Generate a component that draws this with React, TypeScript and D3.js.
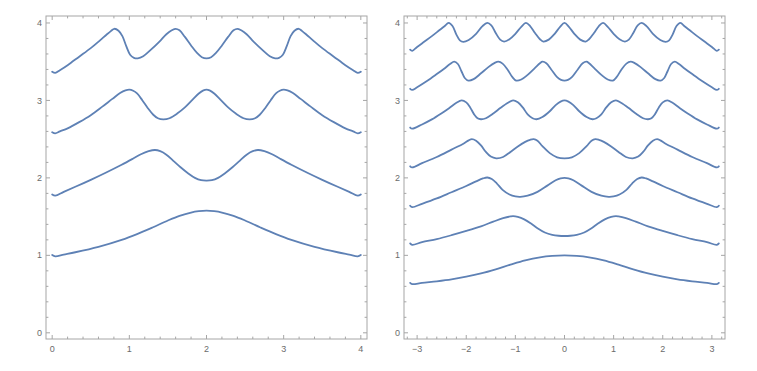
import React from "react";
import * as d3 from "d3";

type P = [number, number];

const leftXTicks = [0, 1, 2, 3, 4];
const rightXTicks = [-3, -2, -1, 0, 1, 2, 3];
const yTicks = [0, 1, 2, 3, 4];

const L1: P[] = [[0,1.005],[0.04,0.988],[0.15,1.01],[0.3,1.04],[0.6,1.11],[0.9,1.2],[1.1,1.275],[1.3,1.36],[1.5,1.45],[1.65,1.51],[1.8,1.553],[1.9,1.57],[2.0,1.577],[2.1,1.57],[2.2,1.553],[2.35,1.51],[2.5,1.45],[2.7,1.36],[2.9,1.275],[3.1,1.2],[3.4,1.11],[3.7,1.04],[3.85,1.01],[3.96,0.988],[4,1.005]];
const L2: P[] = [[0,1.785],[0.04,1.77],[0.15,1.82],[0.3,1.885],[0.5,1.975],[0.7,2.07],[0.9,2.17],[1.05,2.25],[1.15,2.305],[1.25,2.345],[1.333,2.36],[1.4,2.345],[1.48,2.3],[1.57,2.22],[1.66,2.14],[1.76,2.06],[1.85,2.0],[1.93,1.97],[2.0,1.965],[2.07,1.97],[2.15,2.0],[2.24,2.06],[2.34,2.14],[2.43,2.22],[2.52,2.3],[2.6,2.345],[2.667,2.36],[2.75,2.345],[2.85,2.305],[2.95,2.25],[3.1,2.17],[3.3,2.07],[3.5,1.975],[3.7,1.885],[3.85,1.82],[3.96,1.77],[4,1.785]];
const L3: P[] = [[0,2.59],[0.04,2.575],[0.1,2.6],[0.2,2.64],[0.35,2.72],[0.5,2.81],[0.65,2.92],[0.78,3.02],[0.88,3.095],[0.95,3.13],[1.0,3.14],[1.05,3.125],[1.1,3.09],[1.17,3.0],[1.24,2.9],[1.31,2.815],[1.37,2.77],[1.44,2.755],[1.52,2.77],[1.62,2.83],[1.72,2.91],[1.82,3.01],[1.9,3.09],[1.96,3.13],[2.0,3.14],[2.04,3.13],[2.1,3.09],[2.18,3.01],[2.28,2.91],[2.38,2.83],[2.48,2.77],[2.56,2.755],[2.63,2.77],[2.69,2.815],[2.76,2.9],[2.83,3.0],[2.9,3.09],[2.95,3.125],[3.0,3.14],[3.05,3.13],[3.12,3.095],[3.22,3.02],[3.35,2.92],[3.5,2.81],[3.65,2.72],[3.8,2.64],[3.9,2.6],[3.96,2.575],[4,2.59]];
const L4: P[] = [[0,3.37],[0.04,3.355],[0.1,3.39],[0.2,3.455],[0.35,3.565],[0.5,3.675],[0.62,3.775],[0.7,3.845],[0.76,3.895],[0.805,3.925],[0.86,3.9],[0.91,3.83],[0.96,3.7],[1.01,3.59],[1.06,3.55],[1.11,3.543],[1.18,3.57],[1.28,3.655],[1.39,3.76],[1.48,3.855],[1.55,3.905],[1.6,3.925],[1.65,3.905],[1.72,3.82],[1.8,3.71],[1.88,3.61],[1.94,3.558],[2.0,3.543],[2.06,3.558],[2.12,3.61],[2.2,3.71],[2.28,3.82],[2.35,3.905],[2.4,3.925],[2.45,3.905],[2.52,3.855],[2.61,3.76],[2.72,3.655],[2.82,3.57],[2.89,3.543],[2.94,3.55],[2.99,3.59],[3.04,3.7],[3.09,3.83],[3.14,3.9],[3.195,3.925],[3.24,3.895],[3.3,3.845],[3.38,3.775],[3.5,3.675],[3.65,3.565],[3.8,3.455],[3.9,3.39],[3.96,3.355],[4,3.37]];

const R1: P[] = [[-3.1416,0.645],[-3.1,0.628],[-2.9,0.645],[-2.6,0.665],[-2.3,0.69],[-2.0,0.725],[-1.7,0.767],[-1.4,0.82],[-1.1,0.88],[-0.8,0.935],[-0.5,0.975],[-0.25,0.994],[0,1.0],[0.25,0.994],[0.5,0.975],[0.8,0.935],[1.1,0.88],[1.4,0.82],[1.7,0.767],[2.0,0.725],[2.3,0.69],[2.6,0.665],[2.9,0.645],[3.1,0.628],[3.1416,0.645]];
const R2: P[] = [[-3.1416,1.155],[-3.1,1.136],[-2.9,1.17],[-2.6,1.21],[-2.3,1.26],[-2.0,1.315],[-1.7,1.375],[-1.45,1.435],[-1.25,1.48],[-1.1,1.503],[-1.047,1.507],[-0.95,1.497],[-0.82,1.465],[-0.68,1.41],[-0.55,1.35],[-0.4,1.295],[-0.25,1.265],[-0.12,1.253],[0,1.25],[0.12,1.253],[0.25,1.265],[0.4,1.295],[0.55,1.35],[0.68,1.41],[0.82,1.465],[0.95,1.497],[1.047,1.507],[1.1,1.503],[1.25,1.48],[1.45,1.435],[1.7,1.375],[2.0,1.315],[2.3,1.26],[2.6,1.21],[2.9,1.17],[3.1,1.136],[3.1416,1.155]];
const R3: P[] = [[-3.1416,1.64],[-3.1,1.622],[-2.9,1.665],[-2.6,1.735],[-2.3,1.815],[-2.0,1.895],[-1.8,1.955],[-1.66,1.993],[-1.571,2.005],[-1.48,1.985],[-1.38,1.93],[-1.26,1.845],[-1.12,1.785],[-1.0,1.76],[-0.9,1.755],[-0.75,1.77],[-0.55,1.82],[-0.35,1.9],[-0.18,1.97],[-0.08,1.995],[0,2.0],[0.08,1.995],[0.18,1.97],[0.35,1.9],[0.55,1.82],[0.75,1.77],[0.9,1.755],[1.0,1.76],[1.12,1.785],[1.26,1.845],[1.38,1.93],[1.48,1.985],[1.571,2.005],[1.66,1.993],[1.8,1.955],[2.0,1.895],[2.3,1.815],[2.6,1.735],[2.9,1.665],[3.1,1.622],[3.1416,1.64]];
const R4: P[] = [[-3.1416,2.15],[-3.1,2.135],[-2.9,2.19],[-2.6,2.27],[-2.3,2.365],[-2.05,2.445],[-1.95,2.485],[-1.885,2.5],[-1.8,2.48],[-1.7,2.42],[-1.6,2.335],[-1.5,2.275],[-1.39,2.253],[-1.25,2.27],[-1.1,2.335],[-0.95,2.405],[-0.8,2.465],[-0.7,2.492],[-0.628,2.5],[-0.55,2.48],[-0.45,2.41],[-0.3,2.32],[-0.15,2.266],[0,2.253],[0.15,2.266],[0.3,2.32],[0.45,2.41],[0.55,2.48],[0.628,2.5],[0.7,2.492],[0.8,2.465],[0.95,2.405],[1.1,2.335],[1.25,2.27],[1.39,2.253],[1.5,2.275],[1.6,2.335],[1.7,2.42],[1.8,2.48],[1.885,2.5],[1.95,2.485],[2.05,2.445],[2.3,2.365],[2.6,2.27],[2.9,2.19],[3.1,2.135],[3.1416,2.15]];
const R5: P[] = [[-3.1416,2.65],[-3.1,2.635],[-2.9,2.69],[-2.7,2.755],[-2.5,2.835],[-2.35,2.9],[-2.2,2.97],[-2.094,3.0],[-2.0,2.975],[-1.92,2.91],[-1.84,2.82],[-1.77,2.77],[-1.7,2.757],[-1.6,2.77],[-1.45,2.83],[-1.3,2.905],[-1.15,2.97],[-1.047,3.0],[-0.95,2.975],[-0.85,2.91],[-0.75,2.82],[-0.65,2.77],[-0.57,2.757],[-0.45,2.785],[-0.3,2.86],[-0.18,2.94],[-0.08,2.985],[0,3.0],[0.08,2.985],[0.18,2.94],[0.3,2.86],[0.45,2.785],[0.57,2.757],[0.65,2.77],[0.75,2.82],[0.85,2.91],[0.95,2.975],[1.047,3.0],[1.15,2.97],[1.3,2.905],[1.45,2.83],[1.6,2.77],[1.7,2.757],[1.77,2.77],[1.84,2.82],[1.92,2.91],[2.0,2.975],[2.094,3.0],[2.2,2.97],[2.35,2.9],[2.5,2.835],[2.7,2.755],[2.9,2.69],[3.1,2.635],[3.1416,2.65]];
const R6: P[] = [[-3.1416,3.15],[-3.1,3.135],[-3.0,3.17],[-2.8,3.25],[-2.6,3.34],[-2.45,3.41],[-2.33,3.47],[-2.244,3.5],[-2.17,3.47],[-2.1,3.38],[-2.03,3.29],[-1.955,3.256],[-1.85,3.275],[-1.7,3.35],[-1.55,3.43],[-1.42,3.485],[-1.346,3.5],[-1.26,3.475],[-1.16,3.4],[-1.06,3.3],[-0.984,3.256],[-0.88,3.27],[-0.75,3.33],[-0.6,3.42],[-0.5,3.48],[-0.449,3.5],[-0.37,3.48],[-0.27,3.4],[-0.15,3.3],[-0.07,3.265],[0,3.256],[0.07,3.265],[0.15,3.3],[0.27,3.4],[0.37,3.48],[0.449,3.5],[0.5,3.48],[0.6,3.42],[0.75,3.33],[0.88,3.27],[0.984,3.256],[1.06,3.3],[1.16,3.4],[1.26,3.475],[1.346,3.5],[1.42,3.485],[1.55,3.43],[1.7,3.35],[1.85,3.275],[1.955,3.256],[2.03,3.29],[2.1,3.38],[2.17,3.47],[2.244,3.5],[2.33,3.47],[2.45,3.41],[2.6,3.34],[2.8,3.25],[3.0,3.17],[3.1,3.135],[3.1416,3.15]];
const R7: P[] = [[-3.1416,3.655],[-3.1,3.64],[-3.0,3.69],[-2.85,3.76],[-2.7,3.83],[-2.55,3.905],[-2.45,3.955],[-2.356,4.0],[-2.28,3.96],[-2.2,3.85],[-2.13,3.775],[-2.06,3.755],[-1.95,3.78],[-1.8,3.86],[-1.67,3.96],[-1.571,4.0],[-1.49,3.97],[-1.4,3.87],[-1.31,3.785],[-1.23,3.76],[-1.12,3.79],[-1.0,3.86],[-0.88,3.95],[-0.785,4.0],[-0.7,3.96],[-0.6,3.87],[-0.5,3.79],[-0.43,3.76],[-0.32,3.785],[-0.2,3.86],[-0.09,3.95],[0,4.0],[0.09,3.95],[0.2,3.86],[0.32,3.785],[0.43,3.76],[0.5,3.79],[0.6,3.87],[0.7,3.96],[0.785,4.0],[0.88,3.95],[1.0,3.86],[1.12,3.79],[1.23,3.76],[1.31,3.785],[1.4,3.87],[1.49,3.97],[1.571,4.0],[1.67,3.96],[1.8,3.86],[1.95,3.78],[2.06,3.755],[2.13,3.775],[2.2,3.85],[2.28,3.96],[2.356,4.0],[2.45,3.955],[2.55,3.905],[2.7,3.83],[2.85,3.76],[3.0,3.69],[3.1,3.64],[3.1416,3.655]];

const leftSeries = [L1, L2, L3, L4];
const rightSeries = [R1, R2, R3, R4, R5, R6, R7];

const LINE = "#5E81B5";
const FRAME = "#a6a6a6";
const LABEL = "#6b6b6b";
const FONT = "'Liberation Sans', Arial, sans-serif";

function minorTicks(domain: [number, number], majors: number[]): number[] {
  const out: number[] = [];
  const start = Math.ceil(domain[0] / 0.2);
  const end = Math.floor(domain[1] / 0.2);
  for (let i = start; i <= end; i++) {
    const v = +(i * 0.2).toFixed(6);
    if (!majors.some((m) => Math.abs(m - v) < 1e-6)) out.push(v);
  }
  return out;
}

function Panel({ xDomain, xRange, xTicks, series }: { xDomain: [number, number]; xRange: [number, number]; xTicks: number[]; series: P[][] }) {
  const yDomain: [number, number] = [-0.08, 4.09];
  const x = d3.scaleLinear().domain(xDomain).range(xRange);
  const y = d3.scaleLinear().domain(yDomain).range([339, 16]);
  const line = d3.line<P>().x((d) => x(d[0])).y((d) => y(d[1])).curve(d3.curveCatmullRom.alpha(0.5));
  const [x0, x1] = xRange;
  const [yb, yt] = [339, 16];
  const MAJ = 4;
  const MIN = 2.4;
  const xMinor = minorTicks(xDomain, xTicks);
  const yMinor = minorTicks(yDomain, yTicks);
  const fmt = (v: number) => (v < 0 ? "\u2212" + Math.abs(v) : String(v));
  return (
    <g>
      {series.map((s, i) => (
        <path key={i} d={line(s) || ""} fill="none" stroke={LINE} strokeWidth={1.8} strokeLinejoin="round" strokeLinecap="round" />
      ))}
      <rect x={x0} y={yt} width={x1 - x0} height={yb - yt} fill="none" stroke={FRAME} strokeWidth={1} />
      {xTicks.map((t) => (
        <g key={"xt" + t}>
          <line x1={x(t)} x2={x(t)} y1={yb} y2={yb - MAJ} stroke={FRAME} />
          <line x1={x(t)} x2={x(t)} y1={yt} y2={yt + MAJ} stroke={FRAME} />
          <text x={x(t)} y={352} textAnchor="middle" fontSize={9} fill={LABEL} fontFamily={FONT}>{fmt(t)}</text>
        </g>
      ))}
      {xMinor.map((t) => (
        <g key={"xm" + t}>
          <line x1={x(t)} x2={x(t)} y1={yb} y2={yb - MIN} stroke={FRAME} />
          <line x1={x(t)} x2={x(t)} y1={yt} y2={yt + MIN} stroke={FRAME} />
        </g>
      ))}
      {yTicks.map((t) => (
        <g key={"yt" + t}>
          <line x1={x0} x2={x0 + MAJ} y1={y(t)} y2={y(t)} stroke={FRAME} />
          <line x1={x1} x2={x1 - MAJ} y1={y(t)} y2={y(t)} stroke={FRAME} />
          <text x={x0 - 4} y={y(t)} dy="0.35em" textAnchor="end" fontSize={9} fill={LABEL} fontFamily={FONT}>{fmt(t)}</text>
        </g>
      ))}
      {yMinor.map((t) => (
        <g key={"ym" + t}>
          <line x1={x0} x2={x0 + MIN} y1={y(t)} y2={y(t)} stroke={FRAME} />
          <line x1={x1} x2={x1 - MIN} y1={y(t)} y2={y(t)} stroke={FRAME} />
        </g>
      ))}
    </g>
  );
}

export default function App() {
  return (
    <svg width={757} height={371} style={{ position: "absolute", left: 0, top: 0, background: "#fff" }}>
      <Panel xDomain={[-0.08, 4.08]} xRange={[46, 367]} xTicks={leftXTicks} series={leftSeries} />
      <Panel xDomain={[-3.267, 3.267]} xRange={[404, 725]} xTicks={rightXTicks} series={rightSeries} />
    </svg>
  );
}
